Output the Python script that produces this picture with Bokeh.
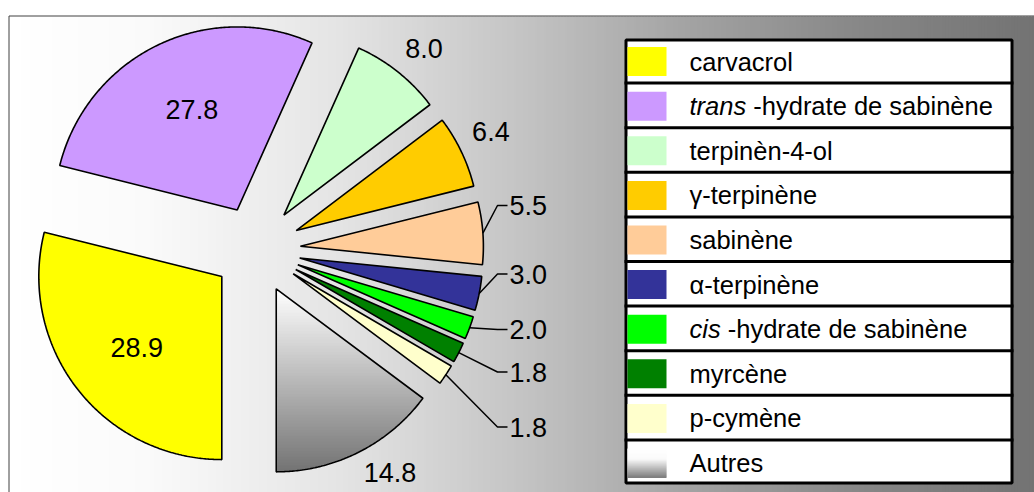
import numpy as np
from bokeh.plotting import figure
from bokeh.models import Range1d
from bokeh.embed import file_html
from bokeh.resources import INLINE
from bokeh.core.properties import value

# ---------------- data ----------------
compounds = ["carvacrol", "trans-hydrate de sabinène", "terpinèn-4-ol", "γ-terpinène",
             "sabinène", "α-terpinène", "cis-hydrate de sabinène", "myrcène",
             "p-cymène", "Autres"]
italic_part = ["", "trans", "", "", "", "", "cis", "", "", ""]
percent = [28.9, 27.8, 8.0, 6.4, 5.5, 3.0, 2.0, 1.8, 1.8, 14.8]
value_text = ["28.9", "27.8", "8.0", "6.4", "5.5", "3.0", "2.0", "1.8", "1.8", "14.8"]
slice_colors = ["#FFFF00", "#CC99FF", "#CCFFCC", "#FFCC00", "#FFCC99",
                "#333399", "#00FF00", "#008000", "#FFFFCC", "gradient"]

# ---------------- layout ----------------
W, H = 1034, 492
X0, Y0 = 0, 0                     # data coords = screen coords
CX, CY, R, EXPLODE = 256, 249, 183, 44
label_mode = ["in", "in", "out", "out", "lead", "lead", "lead", "lead", "lead", "out"]
leader_y = {4: 205, 5: 273.5, 6: 329, 7: 371.5, 8: 426.5}
FONT = "Liberation Sans"
NUM_SIZE = "27px"
LEG_SIZE = "25.5px"

p = figure(width=W, height=H, output_backend="svg", toolbar_location=None,
           x_range=Range1d(X0, X0 + W), y_range=Range1d(Y0 + H, Y0),
           x_axis_location=None, y_axis_location=None, min_border=0)
p.grid.visible = False
p.outline_line_color = None
p.background_fill_color = "white"
p.border_fill_color = "white"


def grey(v):
    v = int(round(max(0, min(255, v))))
    return "#%02x%02x%02x" % (v, v, v)


# ---------------- background gradient ----------------
stops_x = [8, 150, 340, 520, 680, 860, 1034]
stops_v = [255, 250, 228, 196, 164, 135, 115]
bx = np.arange(9, 1034, 3)
p.quad(left=bx, right=bx + 4, top=np.full(len(bx), 16), bottom=np.full(len(bx), 492),
       fill_color=[grey(np.interp(x + 1.5, stops_x, stops_v)) for x in bx], line_color=None)
p.line(x=[8.5, 8.5, 1034], y=[492, 15.5, 15.5], line_color="#404040", line_width=1)


# ---------------- pie ----------------
def clip_y(pts, yc, keep_greater):
    out = []
    n = len(pts)
    for k in range(n):
        a = pts[k]
        b = pts[(k + 1) % n]
        ain = a[1] >= yc if keep_greater else a[1] <= yc
        bin_ = b[1] >= yc if keep_greater else b[1] <= yc
        if ain:
            out.append(a)
        if ain != bin_:
            t = (yc - a[1]) / (b[1] - a[1])
            out.append((a[0] + t * (b[0] - a[0]), yc))
    return out


total = sum(percent)
start = 270.0
slices = []
for i, v in enumerate(percent):
    sweep = v / total * 360.0
    t0, t1 = start, start - sweep
    mid = np.radians((t0 + t1) / 2)
    ax = CX + EXPLODE * np.cos(mid)
    ay = CY - EXPLODE * np.sin(mid)
    ts = np.radians(np.linspace(t0, t1, max(8, int(sweep * 2))))
    xs = [ax] + list(ax + R * np.cos(ts))
    ys = [ay] + list(ay - R * np.sin(ts))
    slices.append(dict(xs=xs, ys=ys, mid=mid, ax=ax, ay=ay))
    start = t1

solid = [k for k in range(len(percent)) if slice_colors[k] != "gradient"]
p.patches(xs=[slices[k]["xs"] for k in solid], ys=[slices[k]["ys"] for k in solid],
          fill_color=[slice_colors[k] for k in solid], line_color="black", line_width=1.6)

# gradient slice (Autres)
for k in range(len(percent)):
    if slice_colors[k] != "gradient":
        continue
    pts = list(zip(slices[k]["xs"], slices[k]["ys"]))
    ymin, ymax = min(slices[k]["ys"]), max(slices[k]["ys"])
    gxs, gys, gcol = [], [], []
    yb = ymin
    while yb < ymax:
        band = clip_y(clip_y(pts, yb, True), yb + 3.6, False)
        if len(band) >= 3:
            gxs.append([q[0] for q in band])
            gys.append([q[1] for q in band])
            f = (yb + 1.5 - ymin) / (ymax - ymin)
            gcol.append(grey(255 - 140 * f))
        yb += 3
    p.patches(xs=gxs, ys=gys, fill_color=gcol, line_color=None)
    p.patch(x=slices[k]["xs"], y=slices[k]["ys"], fill_color=None, line_color="black", line_width=1.6)

# ---------------- value labels ----------------
for i, s in enumerate(slices):
    c, sn = np.cos(s["mid"]), np.sin(s["mid"])
    if label_mode[i] == "in":
        d = 157
        p.text(x=[CX + d * c + 4], y=[CY - d * sn + 1], text=[value_text[i]], text_align="center",
               text_baseline="middle", text_font=value(FONT), text_font_size=NUM_SIZE, text_color="black")
    elif label_mode[i] == "out":
        px = s["ax"] + (R + 12) * c
        py = s["ay"] - (R + 12) * sn
        align = "left" if c > 0.3 else ("right" if c < -0.3 else "center")
        base = "bottom" if sn > 0.3 else ("top" if sn < -0.3 else "middle")
        if base == "bottom":
            py -= 5
        p.text(x=[px], y=[py], text=[value_text[i]], text_align=align, text_baseline=base,
               text_font=value(FONT), text_font_size=NUM_SIZE, text_color="black")
    else:
        ly = leader_y[i]
        ex = s["ax"] + R * c
        ey = s["ay"] - R * sn
        p.line(x=[ex, 497, 507], y=[ey, ly, ly], line_color="black", line_width=1.5)
        p.text(x=[509], y=[ly], text=[value_text[i]], text_align="left", text_baseline="middle",
               text_font=value(FONT), text_font_size=NUM_SIZE, text_color="black")

# ---------------- legend ----------------
LT, LB, LL, LR = 38, 484, 624, 1013
pitch = (LB - LT) / len(compounds)
p.quad(left=[LL + 1.5], right=[LR - 1.5], top=[LT + 1.5], bottom=[LB - 1.5],
       fill_color="white", line_color="black", line_width=3)
sep_y = [LT + k * pitch for k in range(1, len(compounds))]
p.segment(x0=[LL] * len(sep_y), x1=[LR] * len(sep_y), y0=sep_y, y1=sep_y,
          line_color="black", line_width=3)

arial_w = {"t": 278, "r": 333, "a": 556, "n": 556, "s": 500, "c": 500, "i": 222, " ": 278}
leg_px = float(LEG_SIZE.replace("px", ""))
for i, name in enumerate(compounds):
    yc = LT + 0.8 + (i + 0.5) * pitch
    top, bot = yc - 14.5, yc + 14.5
    if slice_colors[i] == "gradient":
        ys_ = np.arange(top, bot, 1.0)
        cols = [grey(np.interp((y - top) / (bot - top), [0, 0.35, 1], [255, 250, 120])) for y in ys_]
        p.quad(left=[627] * len(ys_), right=[666] * len(ys_), top=list(ys_), bottom=list(ys_ + 1.4),
               fill_color=cols, line_color=None)
    else:
        p.quad(left=[627], right=[666], top=[top], bottom=[bot], fill_color=slice_colors[i], line_color=None)
    tx = 689
    pre = italic_part[i]
    rest = name[len(pre):]
    if pre:
        p.text(x=[tx], y=[yc], text=[pre], text_align="left", text_baseline="middle",
               text_font=value(FONT), text_font_size=LEG_SIZE, text_font_style="italic", text_color="black")
        tx += sum(arial_w[ch] for ch in pre + " ") / 1000 * leg_px
    p.text(x=[tx], y=[yc], text=[rest], text_align="left", text_baseline="middle",
           text_font=value(FONT), text_font_size=LEG_SIZE, text_color="black")

open("out.html", "w").write(file_html(p, INLINE))
